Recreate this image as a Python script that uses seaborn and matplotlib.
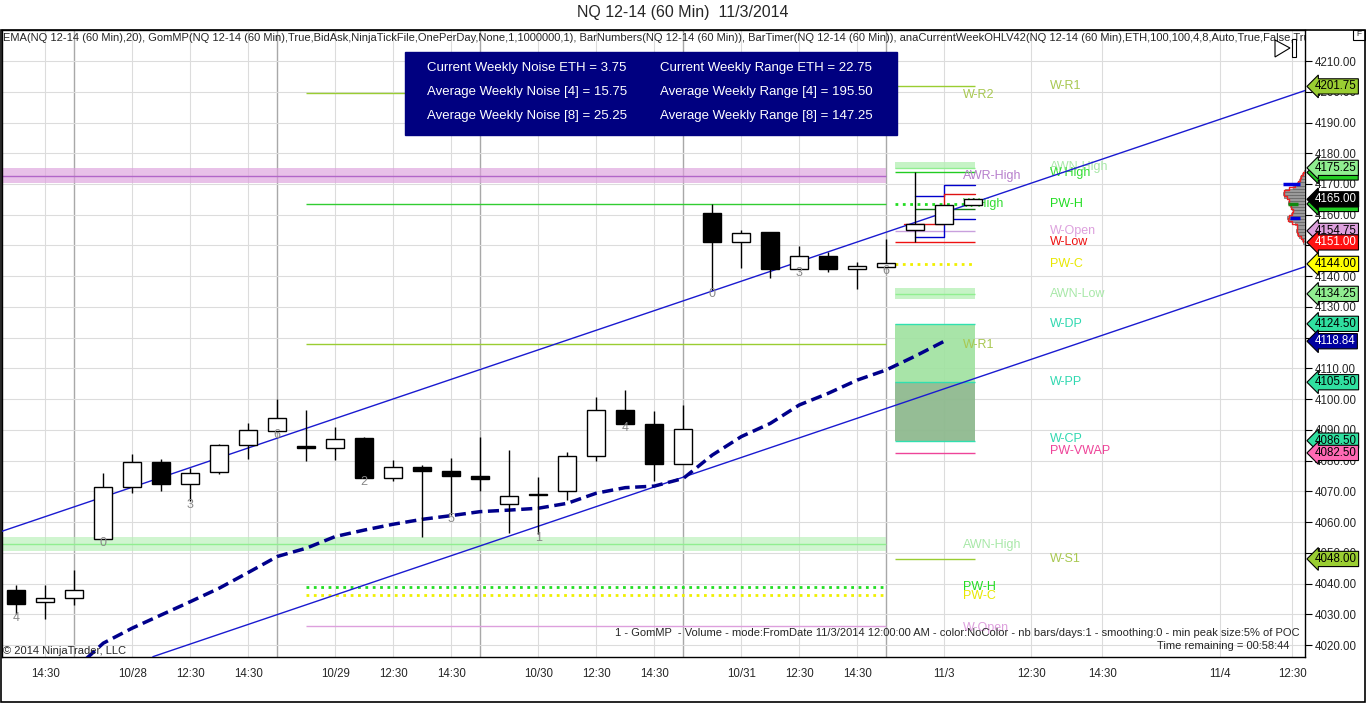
import numpy as np
import pandas as pd
import seaborn as sns
import matplotlib.pyplot as plt
import matplotlib.transforms as mtransforms
from matplotlib.patches import Rectangle, Polygon

# ---- candle data (60 min bars, index = bar number on the chart) ----
opens = [4038, 4034, 4035.25, 4054.5, 4071.5, 4079.5, 4072.5, 4076.25, 4085, 4089.75,
         4084.75, 4084.25, 4087.5, 4074.5, 4078, 4076.75, 4075, 4065.75, 4068.75, 4070,
         4081.5, 4096.5, 4092, 4079, 4160.5, 4151, 4154.5, 4142.25, 4146.5, 4142.5,
         4143, 4155, 4157, 4163]
highs = [4039.5, 4039.5, 4044.25, 4076, 4082, 4080.5, 4077.5, 4085.5, 4092.25, 4100,
         4096.5, 4091, 4087.75, 4080.25, 4078.5, 4080.75, 4087.75, 4083.5, 4074.75, 4082.75,
         4100.75, 4103, 4096, 4098, 4163.5, 4155, 4154.5, 4149.75, 4148, 4144.75,
         4152, 4173.75, 4163, 4165.5]
lows = [4030, 4028.5, 4033, 4054.5, 4069.5, 4070, 4067, 4075.5, 4080.5, 4089.75,
        4079.75, 4080.25, 4074.5, 4073.5, 4055, 4062.25, 4070, 4056.5, 4056.25, 4067.25,
        4080, 4092, 4073.25, 4079, 4135.5, 4142.75, 4139.25, 4142.25, 4141.5, 4135.75,
        4143, 4151, 4157, 4163]
closes = [4033.5, 4035.25, 4038, 4071.5, 4079.5, 4072.25, 4076, 4085, 4090, 4094,
          4084.25, 4087, 4074.5, 4078, 4076.75, 4075, 4074, 4068.5, 4069.25, 4081.5,
          4096.5, 4092, 4079, 4090.25, 4151, 4154, 4142.25, 4146.5, 4142.5, 4143.25,
          4144.25, 4157, 4163, 4165]

# EMA(20), from bar 2 to bar 32
ema_bars = list(range(2, 33))
ema_vals = [4012, 4020.6, 4025.5, 4029.8, 4034.1, 4038.5, 4043.6, 4048.8, 4051.5, 4055.3,
            4057.4, 4059.3, 4060.9, 4062.1, 4063.4, 4063.9, 4064.5, 4066.1, 4069.4, 4071.2,
            4071.7, 4074.2, 4081.8, 4087.8, 4092.1, 4098.1, 4101.9, 4106.2, 4109.5, 4114.0,
            4118.84]

# bar numbers printed under every third bar
barnum_idx = [0, 3, 6, 9, 12, 15, 18, 21, 24, 27, 30]
barnum_txt = ['4', '0', '3', '6', '2', '5', '1', '4', '0', '3', '6']

# hand drawn trend channel
upper_x, upper_y = [-0.56, 44.44], [4056.8, 4200.4]
lower_x, lower_y = [4.71, 44.44], [4016.2, 4143.1]

# x axis
tick_pos = [1, 4, 6, 8, 11, 13, 15, 18, 20, 22, 25, 27, 29, 32, 35, 37.45, 41.5, 44]
tick_lbl = ['14:30', '10/28', '12:30', '14:30', '10/29', '12:30', '14:30', '10/30', '12:30',
            '14:30', '10/31', '12:30', '14:30', '11/3', '12:30', '14:30', '11/4', '12:30']
session_breaks = [2, 9, 16, 23, 30]

# previous week levels (price, colour, style)
pw_levels = [(4199.5, '#9acd32', '-'), (4163.5, '#32cd32', '-'), (4118.0, '#9acd32', '-'),
             (4039.0, '#22dd22', ':'), (4036.25, '#f0f000', ':'), (4026.25, '#dda0dd', '-')]
pw_bands = [(4170.25, 4175.25, 4172.75, '#dda0dd', '#b266c8'),
            (4050.5, 4055.25, 4052.75, '#b8f0b8', '#90ee90')]
pw_labels = [('W-R2', 4199.0, '#a8c850'), ('AWR-High', 4172.5, '#b77fcc'),
             ('W-High', 4163.5, '#33dd33'), ('W-R1', 4117.5, '#a8c850'),
             ('AWN-High', 4052.5, '#a8e8a8'), ('PW-H', 4039.0, '#22dd22'),
             ('PW-C', 4036.0, '#e8e800'), ('W-Open', 4025.5, '#dda0dd')]

# current week levels
cw_levels = [(4201.75, '#9acd32', '-'), (4175.25, '#90ee90', '-'), (4173.75, '#22cc22', '-'),
             (4163.5, '#22dd22', ':'), (4154.75, '#c8a0dd', '-'), (4151.0, '#ee1111', '-'),
             (4144.0, '#f0f000', ':'), (4134.25, '#90ee90', '-'), (4124.5, '#30e0b0', '-'),
             (4105.5, '#30e0b0', '-'), (4086.5, '#30e0b0', '-'), (4082.5, '#ee4499', '-'),
             (4048.0, '#9acd32', '-')]
cw_labels = [('W-R1', 4201.75, '#a8c850'), ('AWN-High', 4175.5, '#a8e8a8'),
             ('W-High', 4173.5, '#33dd33'), ('PW-H', 4163.5, '#22dd22'),
             ('W-Open', 4154.75, '#dda0dd'), ('W-Low', 4151.0, '#ee1111'),
             ('PW-C', 4144.0, '#e8e800'), ('AWN-Low', 4134.25, '#a8e8a8'),
             ('W-DP', 4124.5, '#30d8b0'), ('W-PP', 4105.5, '#30d8b0'),
             ('W-CP', 4087.0, '#30d8b0'), ('PW-VWAP', 4083.0, '#ee4499'),
             ('W-S1', 4048.0, '#a8c850')]

# price tags on the right axis (price, face, text)
tags = [(4173.75, '#22cc22', 'black'), (4163.5, '#22cc22', 'black'),
        (4201.75, '#9acd32', 'black'), (4175.25, '#90ee90', 'black'),
        (4165.00, 'black', 'white'), (4154.75, '#dda0dd', 'black'),
        (4151.00, '#ff1111', 'white'), (4144.00, '#ffff00', 'black'),
        (4134.25, '#90ee90', 'black'), (4124.50, '#30e0a0', 'black'),
        (4118.84, '#0000a0', 'white'), (4105.50, '#30e0a0', 'black'),
        (4086.50, '#30e0a0', 'black'), (4082.50, '#ff69b4', 'black'),
        (4048.00, '#9acd32', 'black')]

# volume profile of the current day
vp_price = [4151, 4152, 4153, 4154, 4155, 4156, 4157, 4158, 4159, 4160, 4161, 4162,
            4163, 4164, 4165, 4166, 4167, 4168, 4169, 4170, 4171, 4172, 4173, 4174]
vp_vol = [2, 3, 6, 8, 9, 7, 10, 16, 18, 14, 12, 13, 15, 17, 16, 21, 22, 20, 12, 8, 6, 5, 3, 1]

info_rows = [('Current Weekly Noise ETH = 3.75', 'Current Weekly Range ETH = 22.75'),
             ('Average Weekly Noise [4] = 15.75', 'Average Weekly Range [4] = 195.50'),
             ('Average Weekly Noise [8] = 25.25', 'Average Weekly Range [8] = 147.25')]

indicators = ('EMA(NQ 12-14 (60 Min),20), GomMP(NQ 12-14 (60 Min),True,BidAsk,NinjaTickFile,'
              'OnePerDay,None,1,1000000,1), BarNumbers(NQ 12-14 (60 Min)), BarTimer(NQ 12-14 (60 Min)), '
              'anaCurrentWeekOHLV42(NQ 12-14 (60 Min),ETH,100,100,4,8,Auto,True,False,True')

sns.set_style('white')
plt.rcParams['font.family'] = ['Liberation Sans', 'DejaVu Sans']

W, H = 1366, 703
L, R, T, B = 2, 1305, 30, 657
fig = plt.figure(figsize=(W / 100, H / 100), dpi=100)
ax = fig.add_axes([L / W, 1 - B / H, (R - L) / W, (B - T) / H])
ax.set_xlim(-0.493, 44.44)
ax.set_ylim(4016.1, 4220.1)
bl = mtransforms.blended_transform_factory(ax.transAxes, ax.transData)


def fx(px):
    return (px - L) / (R - L)


def fy(py):
    return (B - py) / (B - T)


# grid
ax.set_yticks(np.arange(4020, 4211, 10))
ax.set_yticklabels([f'{v:.2f}' for v in np.arange(4020, 4211, 10)])
ax.yaxis.tick_right()
ax.set_xticks(tick_pos)
ax.set_xticklabels(tick_lbl)
ax.tick_params(axis='both', labelsize=8.3, length=5, width=0.8, direction='out', color='black')
ax.tick_params(axis='x', pad=3)
ax.tick_params(axis='y', pad=2)
ax.grid(True, color='#dcdcdc', lw=0.8)
for xb in session_breaks:
    ax.axvline(xb, color='#a8a8a8', lw=1, zorder=0.5)
for s in ax.spines.values():
    s.set_color('black')
    s.set_linewidth(1)

# previous week levels
for y, c, ls in pw_levels:
    ax.hlines(y, 10.0, 30.0, colors=c, linestyles=ls, lw=2 if ls == ':' else 1, zorder=2)
for lo, hi, mid, fc, lc in pw_bands:
    ax.fill_between([-0.5, 30.0], lo, hi, color=fc, alpha=0.65, lw=0, zorder=1.5)
    ax.hlines(mid, -0.5, 30.0, colors=lc, lw=1, zorder=2)
for txt, y, c in pw_labels:
    ax.text(fx(963), y, txt, transform=bl, color=c, fontsize=9, va='center', zorder=3)

# current week levels
cw0, cw1 = 30.3, 33.05
ax.fill_between([cw0, cw1], 4174.75, 4177.25, color='#b8f0b8', alpha=0.8, lw=0, zorder=1.5)
ax.fill_between([cw0, cw1], 4132.5, 4136.25, color='#b8f0b8', alpha=0.8, lw=0, zorder=1.5)
ax.fill_between([cw0, cw1], 4105.5, 4124.5, color='#9fe29f', alpha=0.9, lw=0, zorder=1.5)
ax.fill_between([cw0, cw1], 4086.5, 4105.5, color='#8fba8f', alpha=0.95, lw=0, zorder=1.5)
for y, c, ls in cw_levels:
    ax.hlines(y, cw0, cw1, colors=c, linestyles=ls, lw=2 if ls == ':' else 1, zorder=2)
for txt, y, c in cw_labels:
    ax.text(fx(1050), y, txt, transform=bl, color=c, fontsize=9, va='center', zorder=3)

# step bands around the current bars
ax.step([31, 32, 33.05], [4166.1, 4169.6, 4169.6], where='post', color='#0000cc', lw=1, zorder=3)
ax.step([31, 32, 33.05], [4152.9, 4158.5, 4158.5], where='post', color='#0000cc', lw=1, zorder=3)
ax.step([30.6, 32, 33.05], [4157.0, 4166.7, 4166.7], where='post', color='#dd1111', lw=1, zorder=3)
ax.hlines(4161.75, 31, 33.05, colors='#117711', lw=1, zorder=3)

# trend channel and EMA
sns.lineplot(x=upper_x, y=upper_y, ax=ax, color='#1a1ad0', lw=1, zorder=3)
sns.lineplot(x=lower_x, y=lower_y, ax=ax, color='#1a1ad0', lw=1, zorder=3)
ema = pd.DataFrame({'bar': ema_bars, 'ema': ema_vals})
sns.lineplot(data=ema, x='bar', y='ema', ax=ax, color='#00008b', lw=2.5,
             linestyle=(0, (3.2, 1.6)), zorder=4)
ax.set_xlabel('')
ax.set_ylabel('')

# candles
idx = np.arange(len(opens))
o, h, lo_, c = map(np.array, (opens, highs, lows, closes))
ax.vlines(idx, lo_, h, colors='black', lw=1, zorder=4)
body_lo = np.minimum(o, c)
body_h = np.maximum(np.abs(c - o), 0.4)
face = np.where(c >= o, 'white', 'black')
ax.bar(idx, body_h, bottom=body_lo, width=0.63, color=face, edgecolor='black', lw=1, zorder=5)
for i, t in zip(barnum_idx, barnum_txt):
    ax.annotate(t, (i, lows[i]), xytext=(0, -3), textcoords='offset points', ha='center',
                va='center', color='#888888', fontsize=9, zorder=6)

# info box
ax.add_patch(Rectangle((fx(405), fy(135)), fx(897) - fx(405), fy(52) - fy(135),
                       transform=ax.transAxes, color='#000080', zorder=7))
for r, (a, b) in enumerate(info_rows):
    yy = fy(68 + 24 * r)
    ax.text(fx(427), yy, a, transform=ax.transAxes, color='white', fontsize=9.5, va='center', zorder=8)
    ax.text(fx(660), yy, b, transform=ax.transAxes, color='white', fontsize=9.5, va='center', zorder=8)

# volume profile
axp = fig.add_axes([1270 / W, 1 - B / H, 35 / W, (B - T) / H])
axp.set_ylim(ax.get_ylim())
axp.set_xlim(35, 0)
axp.axis('off')
axp.patch.set_alpha(0)
axp.barh(vp_price, vp_vol, height=1, color='#9a9a9a', edgecolor='#555555', lw=0.4)
axp.plot(vp_vol, vp_price, color='#ee2222', lw=1, drawstyle='steps-mid')
axp.hlines([4170, 4159], [5, 5], [22, 15], colors='#0000dd', lw=2.5)
axp.hlines(4163.5, 7, 17, colors='#118811', lw=2.5)

# price tags
for y, fc, tc in tags:
    ax.text(fx(1315), y, f'{y:.2f}', transform=bl, color=tc, fontsize=8.3, va='center',
            ha='left', clip_on=False, zorder=9,
            bbox=dict(boxstyle='larrow,pad=0.14', fc=fc, ec='black', lw=0.8))

# texts
ax.text(fx(3), fy(38), indicators, transform=ax.transAxes, fontsize=8, va='center',
        ha='left', clip_on=True, zorder=8)
ax.text(fx(1300), fy(633), '1 - GomMP  - Volume - mode:FromDate 11/3/2014 12:00:00 AM - '
        'color:NoColor - nb bars/days:1 - smoothing:0 - min peak size:5% of POC',
        transform=ax.transAxes, fontsize=8, ha='right', va='center', zorder=8)
ax.text(fx(1289), fy(646), 'Time remaining = 00:58:44', transform=ax.transAxes,
        fontsize=8, ha='right', va='center', zorder=8)
ax.text(fx(3), fy(651), '\u00a9 2014 NinjaTrader, LLC', transform=ax.transAxes,
        fontsize=8, ha='left', va='center', zorder=8)

fig.text(683 / W, 1 - 13 / H, 'NQ 12-14 (60 Min)  11/3/2014', ha='center', va='center',
         fontsize=11.5)

# chart frame and small toolbar icons
fig.patches.append(Rectangle((1 / W, 1 / H), 1364 / W, 672 / H, transform=fig.transFigure,
                             fill=False, ec='black', lw=1.2))
fig.patches.append(Polygon([(1275 / W, 1 - 40 / H), (1275 / W, 1 - 57 / H), (1290 / W, 1 - 48 / H)],
                           closed=True, transform=fig.transFigure, fill=False, ec='black', lw=0.8))
fig.patches.append(Rectangle((1292 / W, 1 - 57 / H), 4 / W, 18 / H, transform=fig.transFigure,
                             fill=False, ec='black', lw=0.8))
fig.patches.append(Rectangle((1353 / W, 1 - 40 / H), 12 / W, 10 / H, transform=fig.transFigure,
                             fill=False, ec='black', lw=0.8))
fig.text(1359 / W, 1 - 35 / H, 'F', fontsize=6, ha='center', va='center')

fig.savefig('out.png', dpi=100)
